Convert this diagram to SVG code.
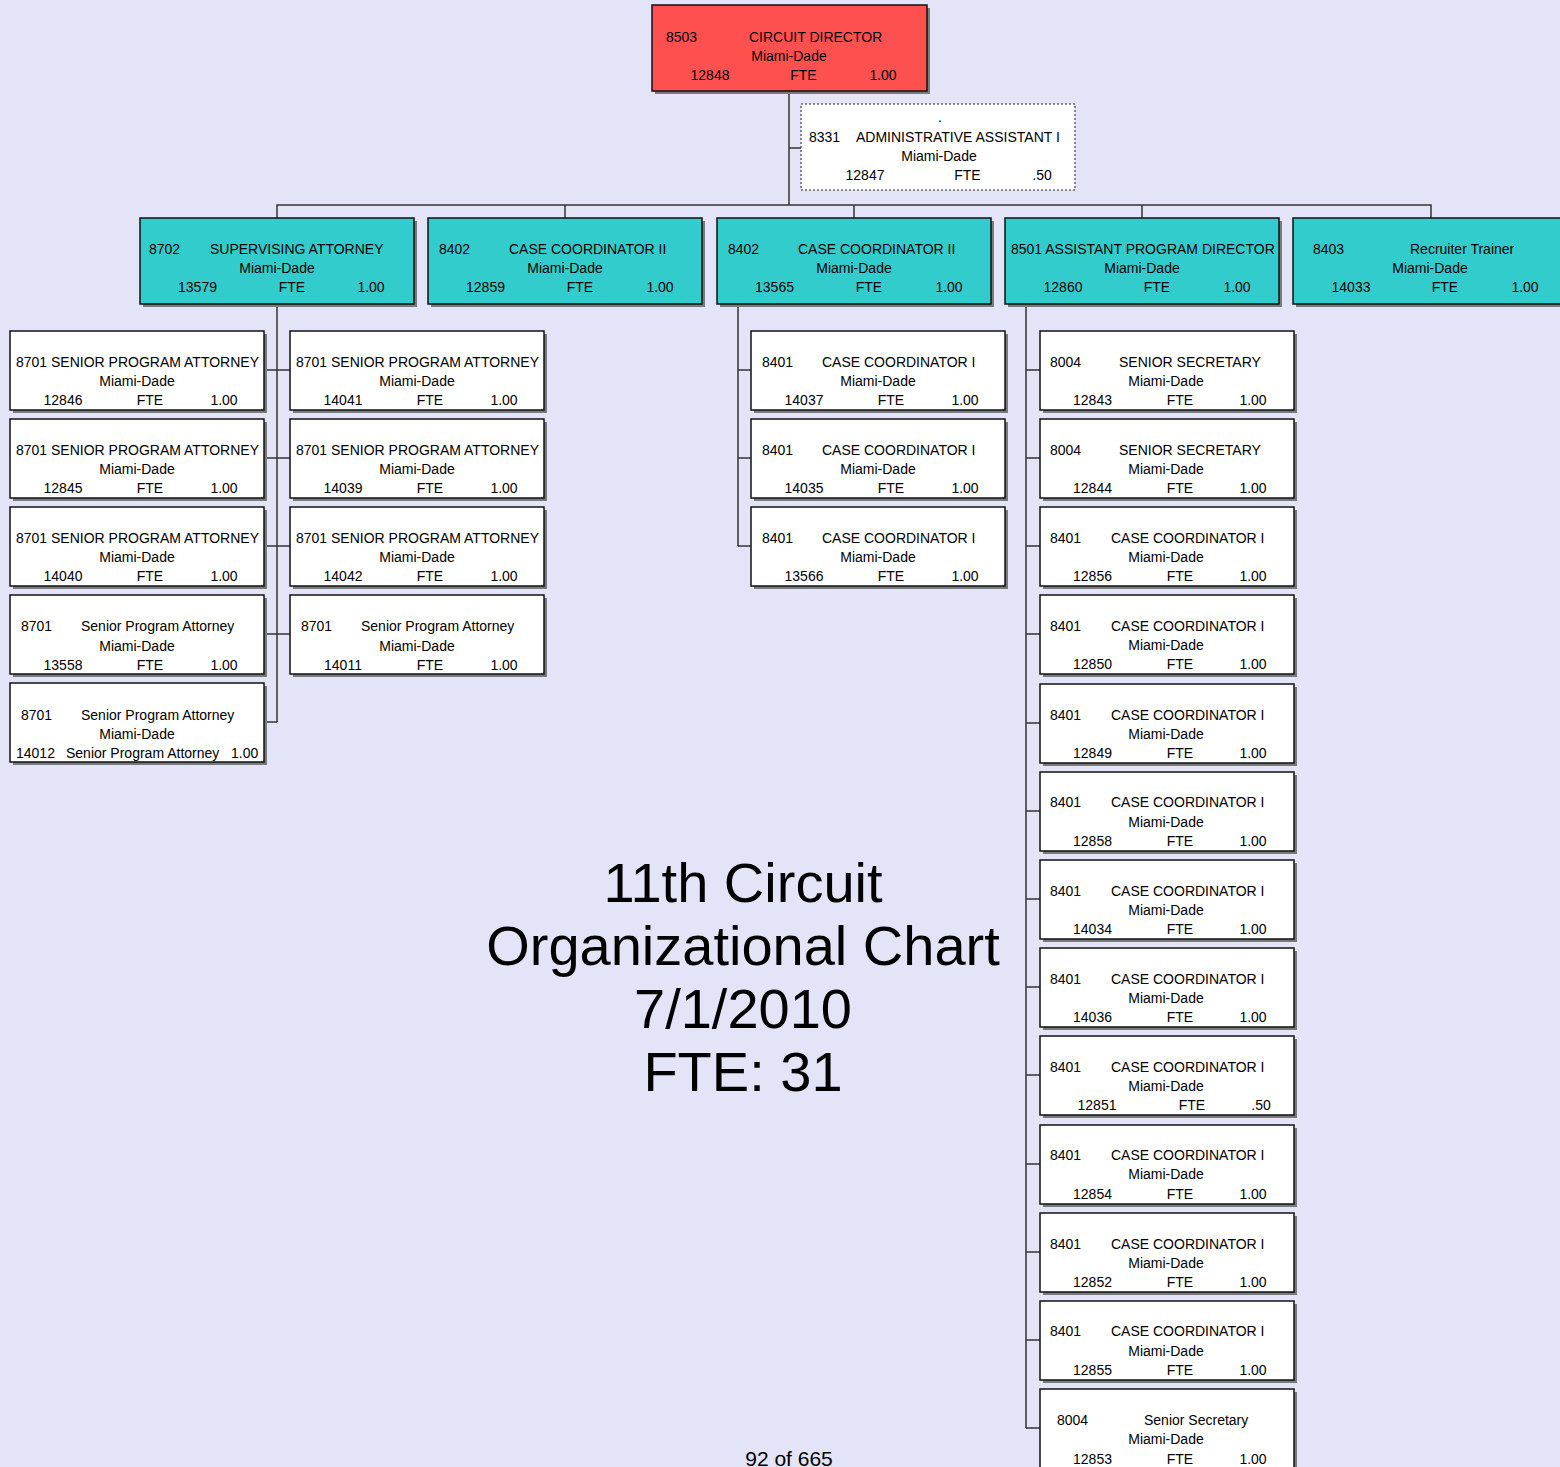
<svg xmlns="http://www.w3.org/2000/svg" width="1560" height="1467" viewBox="0 0 1560 1467">
  <style>
    .bg { fill: #E4E4F8; }
    .sh { fill: #7a7a7a; }
    .box { fill: #ffffff; stroke: #111; stroke-width: 1.5; }
    .dot { fill: #ffffff; stroke: #222; stroke-width: 1; stroke-dasharray: 2 2; }
    .red { fill: #FF5050; stroke: #111; stroke-width: 1.5; }
    .cyan { fill: #33CCCC; stroke: #111; stroke-width: 1.5; }
    .t { font-family: "Liberation Sans", Arial, sans-serif; font-size: 14px; fill: #000; }
    .m { text-anchor: middle; }
    .big { font-family: "Liberation Sans", Arial, sans-serif; font-size: 56px; fill: #000; text-anchor: middle; }
    .pg { font-family: "Liberation Sans", Arial, sans-serif; font-size: 21px; fill: #000; text-anchor: middle; }
    .conn { stroke: #333; stroke-width: 1.5; fill: none; }
  </style>

  <rect class="bg" x="0" y="0" width="1560" height="1467"/>

  <!-- connectors -->
  <g id="connectors">
    <path class="conn" d="M789 91 V205 M789 148 H801"/>
    <path class="conn" d="M277 218 V205 H1431 V218 M565 205 V218 M854 205 V218 M1142 205 V218"/>
    <!-- supervising attorney branch -->
    <path class="conn" d="M277 304 V722 M264 370 H290 M264 458 H290 M264 546 H290 M264 634 H290 M264 722 H277"/>
    <!-- case coordinator II branch -->
    <path class="conn" d="M738 304 V546 M738 370 H751 M738 458 H751 M738 546 H751"/>
    <!-- assistant program director branch -->
    <path class="conn" d="M1026 304 V1428 M1026 370 H1040 M1026 458 H1040 M1026 546 H1040 M1026 634 H1040 M1026 723 H1040 M1026 811 H1040 M1026 899 H1040 M1026 987 H1040 M1026 1075 H1040 M1026 1164 H1040 M1026 1252 H1040 M1026 1340 H1040 M1026 1428 H1040"/>
  </g>

  <!-- top -->
  <g id="n-8503">
    <rect class="sh" x="655" y="8" width="275" height="86"/>
    <rect class="red" x="652" y="5" width="275" height="86"/>
    <text class="t" x="666" y="42">8503</text>
    <text class="t" x="749" y="42">CIRCUIT DIRECTOR</text>
    <text class="t m" x="789" y="61">Miami-Dade</text>
    <text class="t m" x="710" y="80">12848</text>
    <text class="t m" x="803.5" y="80">FTE</text>
    <text class="t m" x="883" y="80">1.00</text>
  </g>

  <g id="n-8331">
    <rect class="dot" x="801" y="104" width="274" height="86"/>
    <text class="t m" x="940" y="122">.</text>
    <text class="t" x="809" y="142">8331</text>
    <text class="t" x="856" y="142">ADMINISTRATIVE ASSISTANT I</text>
    <text class="t m" x="939" y="161">Miami-Dade</text>
    <text class="t m" x="865" y="180">12847</text>
    <text class="t m" x="967.5" y="180">FTE</text>
    <text class="t m" x="1042" y="180">.50</text>
  </g>

  <!-- second level -->
  <g id="n-13579" transform="translate(140,218)">
    <rect class="sh" x="3" y="3" width="274" height="86"/>
    <rect class="cyan" x="0" y="0" width="274" height="86"/>
    <text class="t" x="9" y="36">8702</text>
    <text class="t" x="70" y="36">SUPERVISING ATTORNEY</text>
    <text class="t m" x="137" y="55">Miami-Dade</text>
    <text class="t m" x="57.5" y="74">13579</text>
    <text class="t m" x="152" y="74">FTE</text>
    <text class="t m" x="231" y="74">1.00</text>
  </g>
  <g id="n-12859" transform="translate(428,218)">
    <rect class="sh" x="3" y="3" width="274" height="86"/>
    <rect class="cyan" x="0" y="0" width="274" height="86"/>
    <text class="t" x="11" y="36">8402</text>
    <text class="t" x="81" y="36">CASE COORDINATOR II</text>
    <text class="t m" x="137" y="55">Miami-Dade</text>
    <text class="t m" x="57.5" y="74">12859</text>
    <text class="t m" x="152" y="74">FTE</text>
    <text class="t m" x="232" y="74">1.00</text>
  </g>
  <g id="n-13565" transform="translate(717,218)">
    <rect class="sh" x="3" y="3" width="274" height="86"/>
    <rect class="cyan" x="0" y="0" width="274" height="86"/>
    <text class="t" x="11" y="36">8402</text>
    <text class="t" x="81" y="36">CASE COORDINATOR II</text>
    <text class="t m" x="137" y="55">Miami-Dade</text>
    <text class="t m" x="57.5" y="74">13565</text>
    <text class="t m" x="152" y="74">FTE</text>
    <text class="t m" x="232" y="74">1.00</text>
  </g>
  <g id="n-12860" transform="translate(1005,218)">
    <rect class="sh" x="3" y="3" width="274" height="86"/>
    <rect class="cyan" x="0" y="0" width="274" height="86"/>
    <text class="t" x="6" y="36">8501 ASSISTANT PROGRAM DIRECTOR</text>
    <text class="t m" x="137" y="55">Miami-Dade</text>
    <text class="t m" x="58" y="74">12860</text>
    <text class="t m" x="152" y="74">FTE</text>
    <text class="t m" x="232" y="74">1.00</text>
  </g>
  <g id="n-14033" transform="translate(1293,218)">
    <rect class="sh" x="3" y="3" width="274" height="86"/>
    <rect class="cyan" x="0" y="0" width="274" height="86"/>
    <text class="t" x="20" y="36">8403</text>
    <text class="t" x="117" y="36">Recruiter Trainer</text>
    <text class="t m" x="137" y="55">Miami-Dade</text>
    <text class="t m" x="58" y="74">14033</text>
    <text class="t m" x="152" y="74">FTE</text>
    <text class="t m" x="232" y="74">1.00</text>
  </g>

  <!-- supervising attorney staff, left column -->
  <g id="n-12846" transform="translate(10,331)">
    <rect class="sh" x="3" y="3" width="254" height="79"/>
    <rect class="box" x="0" y="0" width="254" height="79"/>
    <text class="t" x="6" y="36">8701 SENIOR PROGRAM ATTORNEY</text>
    <text class="t m" x="127" y="55">Miami-Dade</text>
    <text class="t m" x="53" y="74">12846</text>
    <text class="t m" x="140" y="74">FTE</text>
    <text class="t m" x="214" y="74">1.00</text>
  </g>
  <g id="n-12845" transform="translate(10,419)">
    <rect class="sh" x="3" y="3" width="254" height="79"/>
    <rect class="box" x="0" y="0" width="254" height="79"/>
    <text class="t" x="6" y="36">8701 SENIOR PROGRAM ATTORNEY</text>
    <text class="t m" x="127" y="55">Miami-Dade</text>
    <text class="t m" x="53" y="74">12845</text>
    <text class="t m" x="140" y="74">FTE</text>
    <text class="t m" x="214" y="74">1.00</text>
  </g>
  <g id="n-14040" transform="translate(10,507)">
    <rect class="sh" x="3" y="3" width="254" height="79"/>
    <rect class="box" x="0" y="0" width="254" height="79"/>
    <text class="t" x="6" y="36">8701 SENIOR PROGRAM ATTORNEY</text>
    <text class="t m" x="127" y="55">Miami-Dade</text>
    <text class="t m" x="53" y="74">14040</text>
    <text class="t m" x="140" y="74">FTE</text>
    <text class="t m" x="214" y="74">1.00</text>
  </g>
  <g id="n-13558" transform="translate(10,595)">
    <rect class="sh" x="3" y="3" width="254" height="79"/>
    <rect class="box" x="0" y="0" width="254" height="79"/>
    <text class="t" x="11" y="36">8701</text>
    <text class="t" x="71" y="36">Senior Program Attorney</text>
    <text class="t m" x="127" y="56">Miami-Dade</text>
    <text class="t m" x="53" y="75">13558</text>
    <text class="t m" x="140" y="75">FTE</text>
    <text class="t m" x="214" y="75">1.00</text>
  </g>
  <g id="n-14012" transform="translate(10,683)">
    <rect class="sh" x="3" y="3" width="254" height="79"/>
    <rect class="box" x="0" y="0" width="254" height="79"/>
    <text class="t" x="11" y="37">8701</text>
    <text class="t" x="71" y="37">Senior Program Attorney</text>
    <text class="t m" x="127" y="56">Miami-Dade</text>
    <text class="t" x="6" y="75">14012</text>
    <text class="t" x="56" y="75">Senior Program Attorney</text>
    <text class="t" x="221" y="75">1.00</text>
  </g>

  <!-- supervising attorney staff, right column -->
  <g id="n-14041" transform="translate(290,331)">
    <rect class="sh" x="3" y="3" width="254" height="79"/>
    <rect class="box" x="0" y="0" width="254" height="79"/>
    <text class="t" x="6" y="36">8701 SENIOR PROGRAM ATTORNEY</text>
    <text class="t m" x="127" y="55">Miami-Dade</text>
    <text class="t m" x="53" y="74">14041</text>
    <text class="t m" x="140" y="74">FTE</text>
    <text class="t m" x="214" y="74">1.00</text>
  </g>
  <g id="n-14039" transform="translate(290,419)">
    <rect class="sh" x="3" y="3" width="254" height="79"/>
    <rect class="box" x="0" y="0" width="254" height="79"/>
    <text class="t" x="6" y="36">8701 SENIOR PROGRAM ATTORNEY</text>
    <text class="t m" x="127" y="55">Miami-Dade</text>
    <text class="t m" x="53" y="74">14039</text>
    <text class="t m" x="140" y="74">FTE</text>
    <text class="t m" x="214" y="74">1.00</text>
  </g>
  <g id="n-14042" transform="translate(290,507)">
    <rect class="sh" x="3" y="3" width="254" height="79"/>
    <rect class="box" x="0" y="0" width="254" height="79"/>
    <text class="t" x="6" y="36">8701 SENIOR PROGRAM ATTORNEY</text>
    <text class="t m" x="127" y="55">Miami-Dade</text>
    <text class="t m" x="53" y="74">14042</text>
    <text class="t m" x="140" y="74">FTE</text>
    <text class="t m" x="214" y="74">1.00</text>
  </g>
  <g id="n-14011" transform="translate(290,595)">
    <rect class="sh" x="3" y="3" width="254" height="79"/>
    <rect class="box" x="0" y="0" width="254" height="79"/>
    <text class="t" x="11" y="36">8701</text>
    <text class="t" x="71" y="36">Senior Program Attorney</text>
    <text class="t m" x="127" y="56">Miami-Dade</text>
    <text class="t m" x="53" y="75">14011</text>
    <text class="t m" x="140" y="75">FTE</text>
    <text class="t m" x="214" y="75">1.00</text>
  </g>

  <!-- case coordinator II staff -->
  <g id="n-14037" transform="translate(751,331)">
    <rect class="sh" x="3" y="3" width="254" height="79"/>
    <rect class="box" x="0" y="0" width="254" height="79"/>
    <text class="t" x="11" y="36">8401</text>
    <text class="t" x="71" y="36">CASE COORDINATOR I</text>
    <text class="t m" x="127" y="55">Miami-Dade</text>
    <text class="t m" x="53" y="74">14037</text>
    <text class="t m" x="140" y="74">FTE</text>
    <text class="t m" x="214" y="74">1.00</text>
  </g>
  <g id="n-14035" transform="translate(751,419)">
    <rect class="sh" x="3" y="3" width="254" height="79"/>
    <rect class="box" x="0" y="0" width="254" height="79"/>
    <text class="t" x="11" y="36">8401</text>
    <text class="t" x="71" y="36">CASE COORDINATOR I</text>
    <text class="t m" x="127" y="55">Miami-Dade</text>
    <text class="t m" x="53" y="74">14035</text>
    <text class="t m" x="140" y="74">FTE</text>
    <text class="t m" x="214" y="74">1.00</text>
  </g>
  <g id="n-13566" transform="translate(751,507)">
    <rect class="sh" x="3" y="3" width="254" height="79"/>
    <rect class="box" x="0" y="0" width="254" height="79"/>
    <text class="t" x="11" y="36">8401</text>
    <text class="t" x="71" y="36">CASE COORDINATOR I</text>
    <text class="t m" x="127" y="55">Miami-Dade</text>
    <text class="t m" x="53" y="74">13566</text>
    <text class="t m" x="140" y="74">FTE</text>
    <text class="t m" x="214" y="74">1.00</text>
  </g>

  <!-- assistant program director staff -->
  <g id="n-12843" transform="translate(1040,331)">
    <rect class="sh" x="3" y="3" width="254" height="79"/>
    <rect class="box" x="0" y="0" width="254" height="79"/>
    <text class="t" x="10" y="36">8004</text>
    <text class="t" x="79" y="36">SENIOR SECRETARY</text>
    <text class="t m" x="126" y="55">Miami-Dade</text>
    <text class="t m" x="52.5" y="74">12843</text>
    <text class="t m" x="140" y="74">FTE</text>
    <text class="t m" x="213" y="74">1.00</text>
  </g>
  <g id="n-12844" transform="translate(1040,419)">
    <rect class="sh" x="3" y="3" width="254" height="79"/>
    <rect class="box" x="0" y="0" width="254" height="79"/>
    <text class="t" x="10" y="36">8004</text>
    <text class="t" x="79" y="36">SENIOR SECRETARY</text>
    <text class="t m" x="126" y="55">Miami-Dade</text>
    <text class="t m" x="52.5" y="74">12844</text>
    <text class="t m" x="140" y="74">FTE</text>
    <text class="t m" x="213" y="74">1.00</text>
  </g>
  <g id="n-12856" transform="translate(1040,507)">
    <rect class="sh" x="3" y="3" width="254" height="79"/>
    <rect class="box" x="0" y="0" width="254" height="79"/>
    <text class="t" x="10" y="36">8401</text>
    <text class="t" x="71" y="36">CASE COORDINATOR I</text>
    <text class="t m" x="126" y="55">Miami-Dade</text>
    <text class="t m" x="52.5" y="74">12856</text>
    <text class="t m" x="140" y="74">FTE</text>
    <text class="t m" x="213" y="74">1.00</text>
  </g>
  <g id="n-12850" transform="translate(1040,595)">
    <rect class="sh" x="3" y="3" width="254" height="79"/>
    <rect class="box" x="0" y="0" width="254" height="79"/>
    <text class="t" x="10" y="36">8401</text>
    <text class="t" x="71" y="36">CASE COORDINATOR I</text>
    <text class="t m" x="126" y="55">Miami-Dade</text>
    <text class="t m" x="52.5" y="74">12850</text>
    <text class="t m" x="140" y="74">FTE</text>
    <text class="t m" x="213" y="74">1.00</text>
  </g>
  <g id="n-12849" transform="translate(1040,684)">
    <rect class="sh" x="3" y="3" width="254" height="79"/>
    <rect class="box" x="0" y="0" width="254" height="79"/>
    <text class="t" x="10" y="36">8401</text>
    <text class="t" x="71" y="36">CASE COORDINATOR I</text>
    <text class="t m" x="126" y="55">Miami-Dade</text>
    <text class="t m" x="52.5" y="74">12849</text>
    <text class="t m" x="140" y="74">FTE</text>
    <text class="t m" x="213" y="74">1.00</text>
  </g>
  <g id="n-12858" transform="translate(1040,772)">
    <rect class="sh" x="3" y="3" width="254" height="79"/>
    <rect class="box" x="0" y="0" width="254" height="79"/>
    <text class="t" x="10" y="35">8401</text>
    <text class="t" x="71" y="35">CASE COORDINATOR I</text>
    <text class="t m" x="126" y="55">Miami-Dade</text>
    <text class="t m" x="52.5" y="74">12858</text>
    <text class="t m" x="140" y="74">FTE</text>
    <text class="t m" x="213" y="74">1.00</text>
  </g>
  <g id="n-14034" transform="translate(1040,860)">
    <rect class="sh" x="3" y="3" width="254" height="79"/>
    <rect class="box" x="0" y="0" width="254" height="79"/>
    <text class="t" x="10" y="36">8401</text>
    <text class="t" x="71" y="36">CASE COORDINATOR I</text>
    <text class="t m" x="126" y="55">Miami-Dade</text>
    <text class="t m" x="52.5" y="74">14034</text>
    <text class="t m" x="140" y="74">FTE</text>
    <text class="t m" x="213" y="74">1.00</text>
  </g>
  <g id="n-14036" transform="translate(1040,948)">
    <rect class="sh" x="3" y="3" width="254" height="79"/>
    <rect class="box" x="0" y="0" width="254" height="79"/>
    <text class="t" x="10" y="36">8401</text>
    <text class="t" x="71" y="36">CASE COORDINATOR I</text>
    <text class="t m" x="126" y="55">Miami-Dade</text>
    <text class="t m" x="52.5" y="74">14036</text>
    <text class="t m" x="140" y="74">FTE</text>
    <text class="t m" x="213" y="74">1.00</text>
  </g>
  <g id="n-12851" transform="translate(1040,1036)">
    <rect class="sh" x="3" y="3" width="254" height="79"/>
    <rect class="box" x="0" y="0" width="254" height="79"/>
    <text class="t" x="10" y="36">8401</text>
    <text class="t" x="71" y="36">CASE COORDINATOR I</text>
    <text class="t m" x="126" y="55">Miami-Dade</text>
    <text class="t m" x="57" y="74">12851</text>
    <text class="t m" x="152" y="74">FTE</text>
    <text class="t m" x="221" y="74">.50</text>
  </g>
  <g id="n-12854" transform="translate(1040,1125)">
    <rect class="sh" x="3" y="3" width="254" height="79"/>
    <rect class="box" x="0" y="0" width="254" height="79"/>
    <text class="t" x="10" y="35">8401</text>
    <text class="t" x="71" y="35">CASE COORDINATOR I</text>
    <text class="t m" x="126" y="54">Miami-Dade</text>
    <text class="t m" x="52.5" y="74">12854</text>
    <text class="t m" x="140" y="74">FTE</text>
    <text class="t m" x="213" y="74">1.00</text>
  </g>
  <g id="n-12852" transform="translate(1040,1213)">
    <rect class="sh" x="3" y="3" width="254" height="79"/>
    <rect class="box" x="0" y="0" width="254" height="79"/>
    <text class="t" x="10" y="36">8401</text>
    <text class="t" x="71" y="36">CASE COORDINATOR I</text>
    <text class="t m" x="126" y="55">Miami-Dade</text>
    <text class="t m" x="52.5" y="74">12852</text>
    <text class="t m" x="140" y="74">FTE</text>
    <text class="t m" x="213" y="74">1.00</text>
  </g>
  <g id="n-12855" transform="translate(1040,1301)">
    <rect class="sh" x="3" y="3" width="254" height="79"/>
    <rect class="box" x="0" y="0" width="254" height="79"/>
    <text class="t" x="10" y="35">8401</text>
    <text class="t" x="71" y="35">CASE COORDINATOR I</text>
    <text class="t m" x="126" y="55">Miami-Dade</text>
    <text class="t m" x="52.5" y="74">12855</text>
    <text class="t m" x="140" y="74">FTE</text>
    <text class="t m" x="213" y="74">1.00</text>
  </g>
  <g id="n-12853" transform="translate(1040,1389)">
    <rect class="sh" x="3" y="3" width="254" height="79"/>
    <rect class="box" x="0" y="0" width="254" height="79"/>
    <text class="t" x="17" y="36">8004</text>
    <text class="t" x="104" y="36">Senior Secretary</text>
    <text class="t m" x="126" y="55">Miami-Dade</text>
    <text class="t m" x="52.5" y="75">12853</text>
    <text class="t m" x="140" y="75">FTE</text>
    <text class="t m" x="213" y="75">1.00</text>
  </g>

  <!-- chart title -->
  <g id="title">
    <text class="big" x="743" y="902">11th Circuit</text>
    <text class="big" x="743" y="965">Organizational Chart</text>
    <text class="big" x="743" y="1028">7/1/2010</text>
    <text class="big" x="743" y="1091">FTE: 31</text>
  </g>

  <text class="pg" x="789" y="1466">92 of 665</text>
</svg>
